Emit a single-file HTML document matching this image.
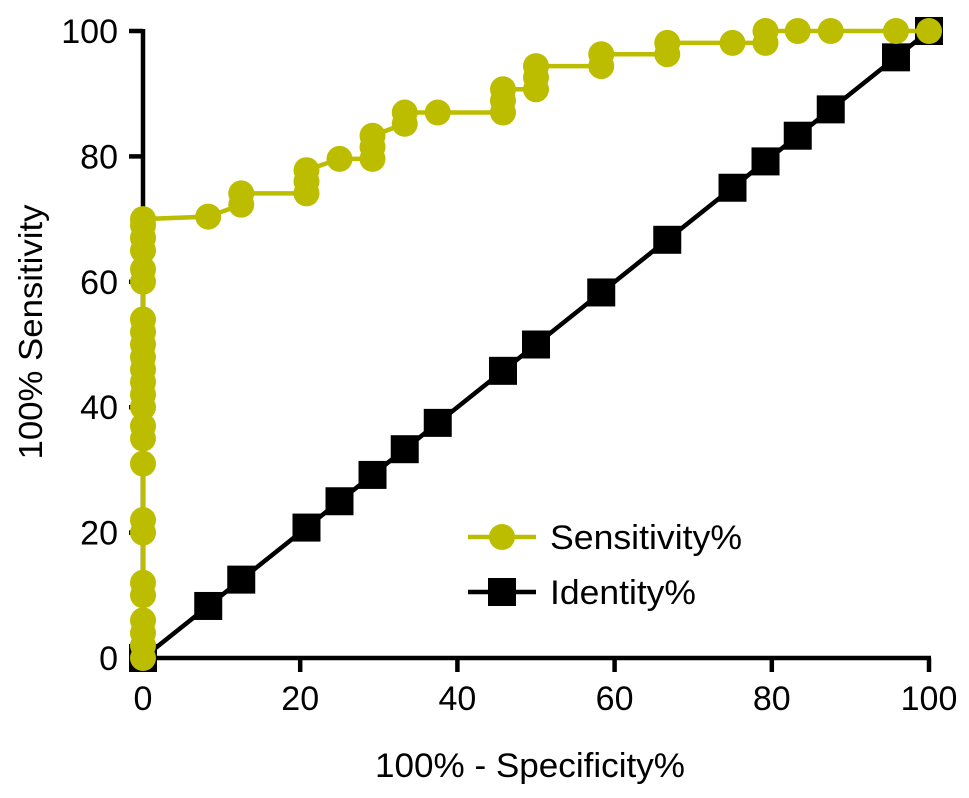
<!DOCTYPE html>
<html><head><meta charset="utf-8"><style>
body{margin:0;background:#fff}
svg text{font-family:"Liberation Sans",sans-serif;fill:#000}
</style></head><body>
<svg id="chart" width="969" height="793" viewBox="0 0 969 793" xmlns="http://www.w3.org/2000/svg">
<g id="axes"></g>
<g id="series"></g>
<g id="legend">
  <line x1="468" y1="537" x2="536" y2="537" stroke="#bdbd00" stroke-width="4.5"/>
  <circle cx="502" cy="537" r="13" fill="#bdbd00"/>
  <text x="550" y="549" font-size="34" textLength="192" lengthAdjust="spacingAndGlyphs">Sensitivity%</text>
  <line x1="468" y1="592" x2="536" y2="592" stroke="#000" stroke-width="4.5"/>
  <rect x="488" y="578" width="28" height="28" fill="#000"/>
  <text x="550" y="604" font-size="34" textLength="146" lengthAdjust="spacingAndGlyphs">Identity%</text>
</g>
<text x="530" y="777" font-size="34" text-anchor="middle" textLength="310" lengthAdjust="spacingAndGlyphs">100% - Specificity%</text>
<text transform="translate(42,332) rotate(-90)" font-size="33" text-anchor="middle" textLength="255" lengthAdjust="spacingAndGlyphs">100% Sensitivity</text>
</svg>
<script>
const xTicks = [0,20,40,60,80,100];
const yTicks = [0,20,40,60,80,100];
const sensX = [0,0,0,0,0,0,0,0,0,0,0,0,0,0,0,0,0,0,0,0,0,0,0,0,0,8.3,12.5,12.5,20.8,20.8,20.8,25,29.2,29.2,29.2,33.3,33.3,37.5,45.8,45.8,45.8,50,50,50,58.3,58.3,66.7,66.7,75,79.2,79.2,83.3,87.5,95.8,100];
const sensY = [0,2,4,6,10,12,20,22,31,35,37,40,42,44,46,48,50,52,54,60,62,65,67,69,70,70.4,72.3,74.1,74.1,76,77.8,79.6,79.6,81.5,83.3,85.2,87,87,87,88.9,90.7,90.7,92.6,94.4,94.4,96.3,96.3,98.1,98.1,98.1,100,100,100,100,100];
const identX = [0,8.3,12.5,20.8,25,29.2,33.3,37.5,45.8,50,58.3,66.7,75,79.2,83.3,87.5,95.8,100];
const identY = [0,8.3,12.5,20.8,25,29.2,33.3,37.5,45.8,50,58.3,66.7,75,79.2,83.3,87.5,95.8,100];

const NS="http://www.w3.org/2000/svg";
const X0=143,X1=929,Y0=658,Y1=31;
const sx=v=>X0+(X1-X0)*v/100;
const sy=v=>Y0-(Y0-Y1)*v/100;
function mk(tag,attrs,parent){const e=document.createElementNS(NS,tag);for(const k in attrs)e.setAttribute(k,attrs[k]);parent.appendChild(e);return e;}
const axes=document.getElementById('axes');
let e=mk('line',{x1:X0,y1:Y1-2,x2:X0,y2:Y0+2,stroke:'#000','stroke-width':4.5},axes);


e=mk('line',{x1:X0-14,y1:Y0,x2:X1+2,y2:Y0,stroke:'#000','stroke-width':4.5},axes);


yTicks.forEach(t=>{
  let l=mk('line',{x1:X0-14,y1:sy(t),x2:X0,y2:sy(t),stroke:'#000','stroke-width':4.5},axes);
  
  
  let tx=mk('text',{x:X0-25,y:sy(t)+12,'font-size':34,'text-anchor':'end'},axes);
  tx.textContent=t;
  
  
});
xTicks.forEach(t=>{
  let l=mk('line',{x1:sx(t),y1:Y0,x2:sx(t),y2:Y0+14,stroke:'#000','stroke-width':4.5},axes);
  
  
  let tx=mk('text',{x:sx(t),y:Y0+52,'font-size':34,'text-anchor':'middle'},axes);
  tx.textContent=t;
  
  
});
const ser=document.getElementById('series');
let p=mk('polyline',{points:identX.map((v,i)=>sx(v)+','+sy(identY[i])).join(' '),fill:'none',stroke:'#000','stroke-width':4.5},ser);


identX.forEach((v,i)=>{
  let r=mk('rect',{x:sx(v)-14,y:sy(identY[i])-14,width:28,height:28,fill:'#000'},ser);
  
  
});
p=mk('polyline',{points:sensX.map((v,i)=>sx(v)+','+sy(sensY[i])).join(' '),fill:'none',stroke:'#bdbd00','stroke-width':4.5},ser);


sensX.forEach((v,i)=>{
  let c=mk('circle',{cx:sx(v),cy:sy(sensY[i]),r:13,fill:'#bdbd00'},ser);
  
  
});
</script>
</body></html>
